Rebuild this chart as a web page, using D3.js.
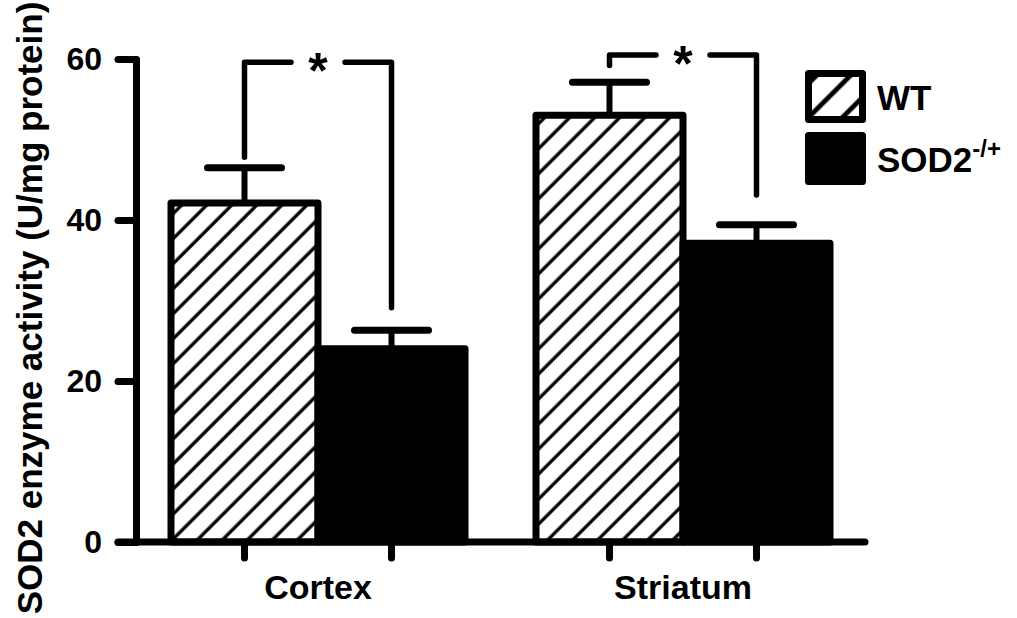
<!DOCTYPE html>
<html>
<head>
<meta charset="utf-8">
<script src="https://cdn.jsdelivr.net/npm/d3@7"></script>
<style>
  body { margin: 0; background: #fff; }
  text { font-family: "Liberation Sans", Arial, sans-serif; font-weight: bold; fill: #000; }
</style>
</head>
<body>
<script>
// values
const groups = ["Cortex", "Striatum"];
const series = ["WT", "SOD2"];
const wtMean = [42.1, 53.0];
const wtSem = [4.4, 4.1];
const sodMean = [24.0, 37.1];
const sodSem = [2.3, 2.3];
const yTicks = [0, 20, 40, 60];
// significance brackets (in y units)
const brTop = [59.6, 60.5];
const brLeft = [47.8, 59.2];
const brRight = [29.1, 43.1];

const WIDTH = 1017;
const HEIGHT = 618;

const svg = d3.select("body")
  .append("svg")
  .attr("width", WIDTH)
  .attr("height", HEIGHT);

const defs = svg.append("defs");
defs.append("pattern")
  .attr("id", "hatch")
  .attr("patternUnits", "userSpaceOnUse")
  .attr("width", 17.7)
  .attr("height", 17.7)
  .attr("patternTransform", "rotate(45)")
  .append("line")
  .attr("x1", 8).attr("x2", 8)
  .attr("y1", -2).attr("y2", 20)
  .attr("stroke", "#000")
  .attr("stroke-width", 3.3);

defs.append("pattern")
  .attr("id", "hatchLegend")
  .attr("patternUnits", "userSpaceOnUse")
  .attr("width", 24)
  .attr("height", 24)
  .attr("patternTransform", "translate(805,70) rotate(45)")
  .append("line")
  .attr("x1", 12).attr("x2", 12)
  .attr("y1", -2).attr("y2", 26)
  .attr("stroke", "#000")
  .attr("stroke-width", 4.8);

const y = d3.scaleLinear().domain([0, 60]).range([542, 59]);
const x0 = d3.scaleBand().domain(groups).range([136, 865])
  .paddingInner(0.1945).paddingOuter(0.0959);
const x1 = d3.scaleBand().domain(series).range([0, x0.bandwidth()]);

const rows = [];
groups.forEach((g, i) => {
  rows.push({ g: g, s: "WT", v: wtMean[i], e: wtSem[i] });
  rows.push({ g: g, s: "SOD2", v: sodMean[i], e: sodSem[i] });
});
const cx = d => x0(d.g) + x1(d.s) + x1.bandwidth() / 2;

// bars
svg.selectAll("rect.bar")
  .data(rows)
  .enter()
  .append("rect")
  .attr("class", "bar")
  .attr("x", d => x0(d.g) + x1(d.s))
  .attr("y", d => y(d.v))
  .attr("width", x1.bandwidth())
  .attr("height", d => y(0) - y(d.v))
  .attr("fill", d => d.s === "WT" ? "url(#hatch)" : "#000")
  .attr("stroke", "#000")
  .attr("stroke-width", 7)
  .attr("stroke-linejoin", "round");

// error bars
const err = svg.selectAll("g.err")
  .data(rows)
  .enter()
  .append("g")
  .attr("class", "err")
  .attr("stroke", "#000")
  .attr("stroke-linecap", "round");
err.append("line")
  .attr("x1", cx).attr("x2", cx)
  .attr("y1", d => y(d.v)).attr("y2", d => y(d.v + d.e))
  .attr("stroke-width", 6);
err.append("line")
  .attr("x1", d => cx(d) - 37).attr("x2", d => cx(d) + 37)
  .attr("y1", d => y(d.v + d.e)).attr("y2", d => y(d.v + d.e))
  .attr("stroke-width", 7);

// y axis
const yAxis = svg.append("g")
  .attr("transform", "translate(136,0)")
  .call(d3.axisLeft(y).tickValues(yTicks).tickSize(18).tickSizeOuter(0).tickPadding(16));
yAxis.select(".domain").attr("stroke-width", 7).attr("stroke-linecap", "round");
yAxis.selectAll(".tick line").attr("stroke-width", 7).attr("stroke-linecap", "round");
yAxis.selectAll(".tick text")
  .attr("font-size", 32)
  .attr("font-family", null);

// x axis
const xAxis = svg.append("g")
  .attr("transform", `translate(0,${y(0)})`)
  .call(d3.axisBottom(x0).tickSize(0).tickPadding(33));
xAxis.select(".domain").remove();
xAxis.selectAll(".tick text").attr("font-size", 34).attr("font-family", null);
xAxis.append("line")
  .attr("x1", 118).attr("x2", 865)
  .attr("stroke", "#000").attr("stroke-width", 7).attr("stroke-linecap", "round");
xAxis.selectAll("line.xt")
  .data(rows)
  .enter()
  .append("line")
  .attr("class", "xt")
  .attr("x1", cx).attr("x2", cx)
  .attr("y1", 0).attr("y2", 16)
  .attr("stroke", "#000").attr("stroke-width", 7).attr("stroke-linecap", "round");

// y title
svg.append("text")
  .attr("transform", "translate(42,308) rotate(-90)")
  .attr("text-anchor", "middle")
  .attr("font-size", 35)
  .text("SOD2 enzyme activity (U/mg protein)");

// significance brackets
groups.forEach((g, i) => {
  const xl = cx(rows[i * 2]);
  const xr = cx(rows[i * 2 + 1]);
  const xm = (xl + xr) / 2;
  const gap = 27;
  const path = d3.path();
  path.moveTo(xl, y(brLeft[i]));
  path.lineTo(xl, y(brTop[i]));
  path.lineTo(xm - gap, y(brTop[i]));
  path.moveTo(xm + gap, y(brTop[i]));
  path.lineTo(xr, y(brTop[i]));
  path.lineTo(xr, y(brRight[i]));
  svg.append("path")
    .attr("d", path.toString())
    .attr("fill", "none")
    .attr("stroke", "#000")
    .attr("stroke-width", 5.5)
    .attr("stroke-linecap", "round")
    .attr("stroke-linejoin", "round");
  svg.append("text")
    .attr("x", xm)
    .attr("y", y(brTop[i]) + 26)
    .attr("text-anchor", "middle")
    .attr("font-size", 50)
    .text("*");
});

// legend
const legend = svg.append("g");
const legendItems = [
  { label: "WT", fill: "url(#hatchLegend)", sup: "" },
  { label: "SOD2", fill: "#000", sup: "-/+" }
];
legendItems.forEach((d, i) => {
  const top = 73.5 + i * 62;
  legend.append("rect")
    .attr("x", 808.5).attr("y", top)
    .attr("width", 54).attr("height", 46)
    .attr("fill", d.fill)
    .attr("stroke", "#000").attr("stroke-width", 7)
    .attr("stroke-linejoin", "round");
  const t = legend.append("text")
    .attr("x", 877).attr("y", top + 36.5)
    .attr("font-size", 35)
    .text(d.label);
  if (d.sup) {
    t.append("tspan")
      .attr("font-size", 24)
      .attr("dy", -15)
      .text(d.sup);
  }
});
</script>
</body>
</html>
